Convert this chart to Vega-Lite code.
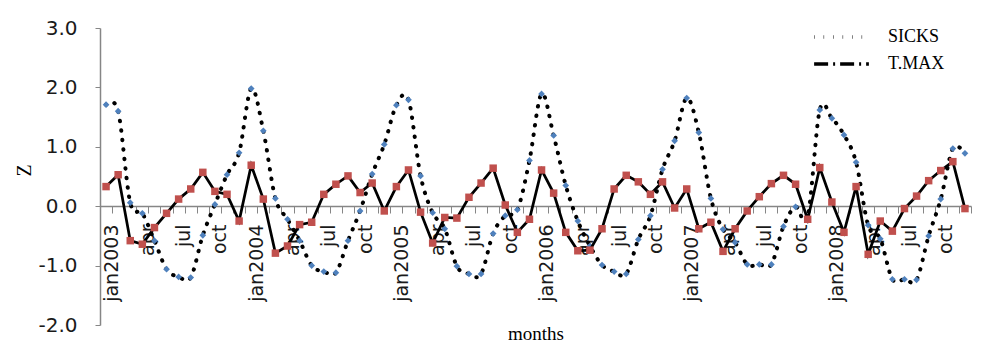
{
  "$schema": "https://vega.github.io/schema/vega-lite/v6.json",
  "width": 871,
  "height": 297,
  "autosize": {"type": "none"},
  "padding": {"left": 100, "top": 28, "right": 12, "bottom": 20},
  "background": "white",
  "config": {
    "view": {"stroke": null},
    "axis": {"domainColor": "#868686", "tickColor": "#868686", "labelColor": "#1a1a1a", "labelFont": "DejaVu Sans", "titleFont": "Liberation Serif", "titleFontWeight": "normal", "titleColor": "black", "grid": false}
  },
  "data": {"values": [
    {"month": "2003-01", "sicks": 1.71, "tmax": 0.33},
    {"month": "2003-02", "sicks": 1.60, "tmax": 0.53},
    {"month": "2003-03", "sicks": 0.06, "tmax": -0.58},
    {"month": "2003-04", "sicks": -0.12, "tmax": -0.64},
    {"month": "2003-05", "sicks": -0.58, "tmax": -0.36},
    {"month": "2003-06", "sicks": -1.06, "tmax": -0.12},
    {"month": "2003-07", "sicks": -1.19, "tmax": 0.12},
    {"month": "2003-08", "sicks": -1.20, "tmax": 0.29},
    {"month": "2003-09", "sicks": -0.49, "tmax": 0.57},
    {"month": "2003-10", "sicks": 0.03, "tmax": 0.25},
    {"month": "2003-11", "sicks": 0.53, "tmax": 0.20},
    {"month": "2003-12", "sicks": 0.90, "tmax": -0.25},
    {"month": "2004-01", "sicks": 1.98, "tmax": 0.69},
    {"month": "2004-02", "sicks": 1.27, "tmax": 0.12},
    {"month": "2004-03", "sicks": 0.13, "tmax": -0.79},
    {"month": "2004-04", "sicks": -0.22, "tmax": -0.67},
    {"month": "2004-05", "sicks": -0.58, "tmax": -0.31},
    {"month": "2004-06", "sicks": -1.00, "tmax": -0.27},
    {"month": "2004-07", "sicks": -1.10, "tmax": 0.20},
    {"month": "2004-08", "sicks": -1.12, "tmax": 0.37},
    {"month": "2004-09", "sicks": -0.58, "tmax": 0.51},
    {"month": "2004-10", "sicks": -0.08, "tmax": 0.23},
    {"month": "2004-11", "sicks": 0.54, "tmax": 0.39},
    {"month": "2004-12", "sicks": 1.04, "tmax": -0.08},
    {"month": "2005-01", "sicks": 1.70, "tmax": 0.33},
    {"month": "2005-02", "sicks": 1.79, "tmax": 0.61},
    {"month": "2005-03", "sicks": 0.51, "tmax": -0.10},
    {"month": "2005-04", "sicks": -0.11, "tmax": -0.62},
    {"month": "2005-05", "sicks": -0.38, "tmax": -0.19},
    {"month": "2005-06", "sicks": -1.01, "tmax": -0.20},
    {"month": "2005-07", "sicks": -1.14, "tmax": 0.15},
    {"month": "2005-08", "sicks": -1.14, "tmax": 0.39},
    {"month": "2005-09", "sicks": -0.46, "tmax": 0.64},
    {"month": "2005-10", "sicks": -0.16, "tmax": 0.02},
    {"month": "2005-11", "sicks": -0.06, "tmax": -0.44},
    {"month": "2005-12", "sicks": 0.77, "tmax": -0.22},
    {"month": "2006-01", "sicks": 1.89, "tmax": 0.61},
    {"month": "2006-02", "sicks": 1.19, "tmax": 0.22},
    {"month": "2006-03", "sicks": 0.35, "tmax": -0.44},
    {"month": "2006-04", "sicks": -0.25, "tmax": -0.75},
    {"month": "2006-05", "sicks": -0.67, "tmax": -0.74},
    {"month": "2006-06", "sicks": -0.99, "tmax": -0.38},
    {"month": "2006-07", "sicks": -1.10, "tmax": 0.29},
    {"month": "2006-08", "sicks": -1.14, "tmax": 0.52},
    {"month": "2006-09", "sicks": -0.56, "tmax": 0.41},
    {"month": "2006-10", "sicks": -0.16, "tmax": 0.20},
    {"month": "2006-11", "sicks": 0.62, "tmax": 0.41},
    {"month": "2006-12", "sicks": 1.10, "tmax": -0.03},
    {"month": "2007-01", "sicks": 1.82, "tmax": 0.29},
    {"month": "2007-02", "sicks": 1.24, "tmax": -0.38},
    {"month": "2007-03", "sicks": 0.13, "tmax": -0.27},
    {"month": "2007-04", "sicks": -0.39, "tmax": -0.76},
    {"month": "2007-05", "sicks": -0.61, "tmax": -0.38},
    {"month": "2007-06", "sicks": -0.98, "tmax": -0.08},
    {"month": "2007-07", "sicks": -0.98, "tmax": 0.16},
    {"month": "2007-08", "sicks": -0.98, "tmax": 0.38},
    {"month": "2007-09", "sicks": -0.34, "tmax": 0.52},
    {"month": "2007-10", "sicks": -0.01, "tmax": 0.37},
    {"month": "2007-11", "sicks": -0.18, "tmax": -0.22},
    {"month": "2007-12", "sicks": 1.62, "tmax": 0.65},
    {"month": "2008-01", "sicks": 1.48, "tmax": 0.07},
    {"month": "2008-02", "sicks": 1.20, "tmax": -0.44},
    {"month": "2008-03", "sicks": 0.74, "tmax": 0.33},
    {"month": "2008-04", "sicks": -0.32, "tmax": -0.81},
    {"month": "2008-05", "sicks": -0.55, "tmax": -0.25},
    {"month": "2008-06", "sicks": -1.23, "tmax": -0.42},
    {"month": "2008-07", "sicks": -1.23, "tmax": -0.04},
    {"month": "2008-08", "sicks": -1.24, "tmax": 0.17},
    {"month": "2008-09", "sicks": -0.50, "tmax": 0.43},
    {"month": "2008-10", "sicks": 0.12, "tmax": 0.60},
    {"month": "2008-11", "sicks": 0.97, "tmax": 0.75},
    {"month": "2008-12", "sicks": 0.89, "tmax": -0.04}
  ]},
  "transform": [{"fold": ["sicks", "tmax"], "as": ["series", "z"]}],
  "encoding": {
    "x": {
      "field": "month",
      "type": "ordinal",
      "scale": {"type": "band", "paddingInner": 0, "paddingOuter": 0},
      "axis": {
        "title": "months",
        "titleFontSize": 19,
        "titlePadding": 23,
        "offset": -119,
        "tickBand": "extent",
        "tickSize": 7,
        "domainWidth": 1.5,
        "labelAngle": 270,
        "labelFontSize": 19,
        "labelPadding": 11,
        "labelOffset": 5,
        "labelOverlap": false,
        "labelExpr": "!isString(datum.value) ? '' : slice(datum.value,5)=='01' ? 'jan' + slice(datum.value,0,4) : slice(datum.value,5)=='04' ? 'apr' : slice(datum.value,5)=='07' ? 'jul' : slice(datum.value,5)=='10' ? 'oct' : ''"
      }
    },
    "y": {
      "field": "z",
      "type": "quantitative",
      "scale": {"domain": [-2, 3], "nice": false, "zero": false},
      "axis": {
        "title": "Z",
        "titleFontSize": 20,
        "titlePadding": 3,
        "titleY": 142,
        "values": [-2, -1, 0, 1, 2, 3],
        "format": ".1f",
        "labelExpr": "replace(datum.label, '\u2212', '-')",
        "labelFontSize": 20,
        "labelPadding": 18,
        "tickSize": 5,
        "domainWidth": 1.5
      }
    }
  },
  "layer": [
    {
      "transform": [{"filter": "datum.series == 'sicks'"}],
      "mark": {"type": "line", "interpolate": "cardinal", "color": "black", "strokeWidth": 4, "strokeCap": "round"},
      "encoding": {
        "strokeDash": {
          "field": "series",
          "type": "nominal",
          "scale": {"domain": ["sicks", "tmax"], "range": [[0.5, 9], [14, 5, 2, 5]]},
          "legend": {
            "title": null,
            "orient": "none",
            "legendX": 712,
            "legendY": -3,
            "symbolType": "stroke",
            "symbolSize": 3000,
            "symbolStrokeWidth": 3.5,
            "symbolStrokeColor": "black",
            "clipHeight": 24,
            "labelFont": "Liberation Serif",
            "labelFontSize": 18,
            "labelColor": "black",
            "labelOffset": 17,
            "rowPadding": 3,
            "labelExpr": "datum.value == 'sicks' ? 'SICKS' : 'T.MAX'"
          }
        }
      }
    },
    {
      "transform": [{"filter": "datum.series == 'sicks'"}],
      "mark": {"type": "point", "shape": "diamond", "filled": true, "color": "#4F81BD", "size": 45, "opacity": 1},
      "encoding": {}
    },
    {
      "transform": [{"filter": "datum.series == 'tmax'"}],
      "mark": {"type": "line", "color": "black", "strokeWidth": 2.75},
      "encoding": {}
    },
    {
      "transform": [{"filter": "datum.series == 'tmax'"}],
      "mark": {"type": "square", "color": "#C0504D", "size": 56, "opacity": 1},
      "encoding": {}
    }
  ]
}
